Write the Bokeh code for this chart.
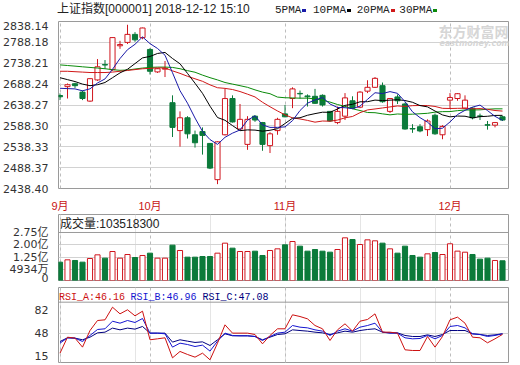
from bokeh.plotting import figure
from bokeh.layouts import column
from bokeh.models import (Range1d, FixedTicker, Label, Span, Grid, Div,
                          PrintfTickFormatter, GlobalInlineStyleSheet)
from bokeh.embed import file_html
from bokeh.resources import INLINE

# ---------------- data ----------------
idx = list(range(60))
month_ticks = [0, 12, 30, 52]
month_labels = ["9月", "10月", "11月", "12月"]
price_ticks = [2438.40, 2488.37, 2538.33, 2588.30, 2638.27, 2688.24, 2738.21, 2788.18, 2838.14]

opens = [2661, 2682.2, 2689.1, 2669.1, 2647.6, 2698.3, 2735, 2722.8, 2780, 2788.1,
         2807.3, 2799.6, 2771.2, 2717.5, 2724, 2643.8, 2577, 2607.7, 2567, 2574.7,
         2546.3, 2459.6, 2567, 2653.8, 2580.8, 2544, 2611.5, 2596.2, 2541, 2577,
         2617, 2653.8, 2666, 2660, 2659.1, 2661.4, 2623, 2596.2, 2611.5, 2648.4,
         2633, 2671.4, 2680.6, 2684.5, 2623, 2657.6, 2640.7, 2582, 2586.2, 2579.3,
         2613.8, 2567, 2649.9, 2653.8, 2630.7, 2630.7, 2612, 2591, 2590, 2610]
highs = [2666, 2689.8, 2691.4, 2672.9, 2702, 2748.2, 2745.9, 2800.5, 2791.9, 2830.3,
         2812.6, 2823.5, 2774.3, 2726.7, 2743.6, 2661.4, 2623, 2611.5, 2577, 2584.6,
         2547, 2551.7, 2676.7, 2661.4, 2640.7, 2611.5, 2614, 2597.7, 2573.1, 2607.7,
         2638.4, 2680.6, 2672.9, 2663.7, 2676.8, 2663.7, 2623.5, 2634.6, 2666.8, 2659.1,
         2671.4, 2697.5, 2705.2, 2692.1, 2654.5, 2663.7, 2643.8, 2592.4, 2592.4, 2603.9,
         2617.7, 2590, 2666.8, 2666.8, 2661.4, 2633, 2617.7, 2600, 2597.7, 2612]
lows = [2650, 2653.8, 2679.1, 2650, 2646, 2696, 2725, 2720, 2772.7, 2784.2,
        2789.6, 2795.7, 2711.3, 2715, 2705.2, 2561.6, 2538.6, 2558, 2536.3, 2519.5,
        2484.9, 2448.8, 2565.5, 2596.2, 2579.3, 2531, 2598, 2528.7, 2523.3, 2567,
        2609, 2630.7, 2653.8, 2634.6, 2640.7, 2634.6, 2597.7, 2592.4, 2602.3, 2630,
        2630.7, 2666.8, 2679, 2643.8, 2619.2, 2640.7, 2579.3, 2571.6, 2573, 2564,
        2567, 2556.3, 2630.7, 2648.4, 2628.4, 2603.9, 2602.3, 2579.3, 2584.7, 2600]
closes = [2658, 2686.8, 2684.5, 2653.8, 2701.3, 2729.7, 2734, 2799.6, 2783, 2807.3,
          2794.2, 2822.6, 2719, 2725.1, 2726, 2584.7, 2607.7, 2569.3, 2547.9, 2565.5,
          2487.2, 2550.1, 2653.7, 2597.7, 2603.9, 2603.9, 2602.3, 2544, 2569.3, 2603.9,
          2610, 2676.8, 2665, 2658, 2642.3, 2638.4, 2600, 2623, 2655.3, 2630.7,
          2669.1, 2680.6, 2702.1, 2646.1, 2653.8, 2648.4, 2580.8, 2580.8, 2576.2, 2600,
          2569.3, 2587, 2656.1, 2665.3, 2649.9, 2607.7, 2611.5, 2590, 2596.2, 2602.3]

ma5 = [2678.3, 2677.5, 2676.8, 2672.2, 2677.0, 2691.0, 2700.7, 2723.7, 2749.5, 2770.7,
       2783.6, 2801.3, 2785.2, 2773.6, 2757.4, 2715.5, 2672.5, 2642.6, 2607.1, 2575.0,
       2555.5, 2544.0, 2560.9, 2570.9, 2578.5, 2601.9, 2612.3, 2590.4, 2584.7, 2584.7,
       2585.9, 2600.8, 2625.0, 2642.7, 2650.4, 2656.1, 2640.7, 2632.3, 2631.8, 2629.5,
       2635.6, 2651.7, 2667.6, 2665.7, 2670.3, 2666.2, 2646.2, 2622.0, 2608.0, 2597.2,
       2581.4, 2582.7, 2597.7, 2615.5, 2625.5, 2633.2, 2638.1, 2624.9, 2611.1, 2601.5]
ma10 = [2703.6, 2699.0, 2694.4, 2688.3, 2684.5, 2686.8, 2692.1, 2703.6, 2715.2, 2723.8,
        2737.4, 2751.0, 2754.5, 2761.6, 2764.1, 2749.6, 2736.9, 2713.9, 2690.4, 2666.2,
        2635.5, 2608.3, 2601.7, 2589.0, 2576.8, 2578.7, 2578.2, 2575.6, 2577.8, 2581.6,
        2593.9, 2606.6, 2607.7, 2613.7, 2617.6, 2621.0, 2620.8, 2628.7, 2637.3, 2640.0,
        2645.9, 2646.2, 2650.0, 2648.8, 2649.9, 2650.9, 2649.0, 2644.8, 2636.9, 2633.8,
        2623.8, 2614.5, 2609.9, 2611.8, 2611.4, 2607.3, 2610.4, 2611.3, 2613.3, 2613.5]
ma20 = [2719.0, 2719.0, 2718.0, 2717.0, 2716.0, 2716.0, 2716.0, 2717.0, 2719.0, 2721.0,
        2723.0, 2725.0, 2726.0, 2727.0, 2727.0, 2720.0, 2714.0, 2707.0, 2701.0, 2695.0,
        2686.5, 2679.6, 2678.1, 2675.3, 2670.5, 2664.2, 2657.6, 2644.8, 2634.1, 2624.0,
        2614.7, 2607.5, 2604.8, 2601.4, 2597.2, 2599.9, 2599.5, 2602.2, 2607.6, 2610.8,
        2619.9, 2626.5, 2628.8, 2631.2, 2633.7, 2636.0, 2634.9, 2636.7, 2637.1, 2636.9,
        2634.8, 2630.3, 2629.9, 2630.3, 2630.6, 2629.1, 2629.7, 2628.0, 2625.1, 2623.7]
ma30 = [2734.3, 2732.8, 2731.3, 2729.7, 2728.2, 2726.7, 2725.1, 2722.8, 2721.3, 2722.0,
        2724.4, 2726.7, 2728.2, 2729.0, 2729.0, 2728.2, 2725.1, 2720.5, 2716.7, 2709.8,
        2703.7, 2698.3, 2692.1, 2688.3, 2684.5, 2680.6, 2674.5, 2669.1, 2665.3, 2657.2,
        2655.6, 2655.2, 2654.6, 2654.7, 2652.8, 2649.7, 2645.3, 2639.4, 2635.1, 2629.2,
        2625.1, 2620.3, 2619.8, 2617.1, 2614.7, 2616.8, 2615.9, 2616.3, 2617.3, 2618.4,
        2621.2, 2622.4, 2622.5, 2624.7, 2626.3, 2626.4, 2626.7, 2628.2, 2629.1, 2629.1]

volumes = [95200000, 109300000, 105300000, 95200000, 117400000, 139600000, 119400000, 159800000, 119400000, 141600000,
           123400000, 135600000, 149700000, 119400000, 119400000, 198200000, 165900000, 125500000, 125500000, 129500000,
           129500000, 149700000, 210300000, 180000000, 159800000, 159800000, 161800000, 135600000, 165900000, 176000000,
           200200000, 220400000, 192100000, 161800000, 171900000, 161800000, 155800000, 171900000, 242600000, 232500000,
           202200000, 230500000, 224500000, 210300000, 176000000, 149700000, 192100000, 135600000, 125500000, 145700000,
           153700000, 141600000, 206500000, 162000000, 155600000, 141700000, 113500000, 119500000, 105300000, 103518300]
vol_ticks = [4.934e7, 1.25e8, 2.0e8, 2.75e8]
vol_tick_labels = ["4934万", "1.25亿", "2.00亿", "2.75亿"]

rsi_a = [18.8, 42.1, 40.7, 27.6, 51.8, 66.4, 67.4, 85.8, 76.1, 82.0,
         73.2, 80.0, 38.3, 39.7, 41.2, 12.0, 21.3, 16.9, 13.0, 18.8,
         9.1, 33.4, 60.1, 48.0, 48.0, 48.0, 46.0, 32.4, 44.6, 54.3,
         54.3, 74.7, 72.2, 68.8, 59.1, 54.3, 37.3, 52.8, 61.6, 50.9,
         65.4, 67.9, 76.1, 49.4, 49.4, 48.0, 23.7, 22.7, 22.7, 43.1,
         27.6, 43.1, 67.4, 71.3, 62.5, 42.1, 41.2, 33.9, 39.7, 46.16]
rsi_b = [33.4, 41.2, 40.7, 35.8, 44.6, 53.3, 54.3, 65.4, 62.5, 66.4,
         63.5, 69.3, 48.0, 48.0, 47.0, 27.6, 33.4, 31.4, 28.5, 30.5,
         21.8, 36.3, 48.0, 44.6, 44.1, 44.1, 43.1, 37.3, 43.1, 48.0,
         49.4, 59.1, 56.7, 55.7, 52.8, 50.9, 44.6, 50.9, 54.3, 50.9,
         56.7, 59.1, 62.5, 49.4, 48.0, 48.0, 41.2, 39.7, 40.2, 44.6,
         39.7, 44.6, 57.7, 59.1, 55.7, 47.0, 46.0, 43.1, 44.6, 46.96]
rsi_c = [35.8, 41.2, 40.7, 38.3, 42.1, 48.4, 49.4, 55.3, 52.8, 55.3,
         53.8, 57.7, 48.0, 48.0, 48.0, 34.9, 38.3, 36.3, 34.4, 35.3,
         30.0, 38.3, 47.0, 44.1, 44.1, 44.1, 43.1, 38.3, 42.1, 46.0,
         47.0, 52.8, 51.8, 50.9, 49.4, 48.4, 46.0, 48.4, 50.9, 49.4,
         51.8, 53.3, 54.3, 49.4, 48.4, 48.4, 44.6, 43.1, 43.1, 45.5,
         43.1, 46.0, 51.8, 51.8, 51.8, 47.0, 46.0, 44.6, 45.5, 47.08]
rsi_ticks = [15, 48, 82]

# ---------------- styles ----------------
RED = "#d0161e"
GREEN = "#0b7a3a"
FRAME = "#9a9a9a"
GRID = "#d2d2d2"
TICK_FONT = "DejaVu Sans, Noto Sans CJK SC"
SANS = "Liberation Sans, Noto Sans CJK SC"
MONO = "Liberation Mono"
MA_COLORS = ["#1a1aa8", "#000000", "#d01818", "#0a8a0a"]
MA_NAMES = ["5PMA", "10PMA", "20PMA", "30PMA"]

up = [c >= o for o, c in zip(opens, closes)]
colors = [RED if u else GREEN for u in up]
fills = ["#ffffff" if u else GREEN for u in up]
body_top = [max(o, c) for o, c in zip(opens, closes)]
body_bot = [min(o, c) for o, c in zip(opens, closes)]

x_range = Range1d(-0.2, 59.8)


def base_fig(height, y_range, top, bottom, x_axis):
    p = figure(width=512, height=height, x_range=x_range, y_range=y_range,
               output_backend="svg", toolbar_location=None,
               min_border_left=57, min_border_right=4,
               min_border_top=top, min_border_bottom=bottom,
               x_axis_location=("below" if x_axis else None))
    p.outline_line_color = FRAME
    p.outline_line_width = 1
    p.background_fill_color = "white"
    p.border_fill_color = "white"
    p.yaxis.axis_line_color = None
    p.yaxis.major_tick_line_color = None
    p.yaxis.minor_tick_line_color = None
    p.yaxis.major_label_standoff = 4
    p.yaxis.major_label_text_font = TICK_FONT
    p.yaxis.major_label_text_font_size = "11px"
    p.yaxis.major_label_text_color = "#333333"
    p.ygrid.grid_line_color = GRID
    return p


def month_grid(p):
    g = Grid(dimension=0, ticker=FixedTicker(ticks=month_ticks),
             grid_line_color="#bdbdbd", grid_line_dash="3 3")
    p.add_layout(g)


# ---------------- header row (title + MA legend) ----------------
legend_left = [275, 313, 356.7, 399.3]
html = ['<div style="position:relative;width:512px;height:21px;overflow:hidden;'
        'font-family:\'Liberation Sans\',\'Noto Sans CJK SC\';font-size:12px;color:#222;">',
        '<span style="position:absolute;left:57px;top:2px;line-height:15px;white-space:nowrap;">'
        '上证指数[000001] 2018-12-12 15:10</span>']
for name, lx, lc in zip(MA_NAMES, legend_left, MA_COLORS):
    html.append('<span style="position:absolute;left:%.1fpx;top:4px;line-height:12px;'
                'font-family:\'Liberation Mono\';font-size:11px;white-space:nowrap;">%s</span>' % (lx, name))
    html.append('<span style="position:absolute;left:%.1fpx;top:9px;width:4px;height:3px;'
                'background:%s;"></span>' % (lx + len(name) * 6.6 + 1, lc))
html.append('</div>')
header = Div(text="".join(html), width=512, height=21, margin=(0, 0, 0, 0))

# ---------------- main K-line panel ----------------
p1 = base_fig(193, Range1d(price_ticks[0], price_ticks[-1]), 0, 19, True)
p1.yaxis.ticker = FixedTicker(ticks=price_ticks)
p1.yaxis.formatter = PrintfTickFormatter(format="%.2f")
p1.ygrid.ticker = FixedTicker(ticks=price_ticks)
p1.xaxis.ticker = FixedTicker(ticks=month_ticks)
p1.xaxis.major_label_overrides = {t: l for t, l in zip(month_ticks, month_labels)}
p1.xaxis.axis_line_color = None
p1.xaxis.major_tick_line_color = None
p1.xaxis.minor_tick_line_color = None
p1.xaxis.major_label_standoff = 5
p1.xaxis.major_label_text_align = "left"
p1.xaxis.major_label_text_font = SANS
p1.xaxis.major_label_text_font_size = "11px"
p1.xaxis.major_label_text_color = "#c81414"
p1.xgrid.ticker = FixedTicker(ticks=month_ticks)
p1.xgrid.grid_line_color = "#bdbdbd"
p1.xgrid.grid_line_dash = "3 3"

p1.segment(x0=idx, y0=lows, x1=idx, y1=highs, line_color=colors, line_width=1)
p1.vbar(x=idx, top=body_top, bottom=body_bot, width=0.68,
        fill_color=fills, line_color=colors, line_width=1)
for ma, mc in zip([ma30, ma20, ma10, ma5], MA_COLORS[::-1]):
    p1.line(idx, ma, line_color=mc, line_width=1)

p1.add_layout(Label(x=380, y=158, x_units="screen", y_units="screen", text="东方财富网",
                    text_font="Noto Sans CJK SC", text_font_size="14px",
                    text_font_style="bold", text_baseline="middle", text_color="#d6d6d6"))
p1.add_layout(Label(x=381, y=145, x_units="screen", y_units="screen", text="eastmoney.com",
                    text_font="DejaVu Sans", text_font_size="8px",
                    text_font_style="bold italic", text_baseline="middle", text_color="#d6d6d6"))

# ---------------- volume panel ----------------
vol_lo, vol_hi = -1.59e7, 3.84e8
p2 = base_fig(70, Range1d(vol_lo, vol_hi), 0, 4, False)
p2.yaxis.ticker = FixedTicker(ticks=[vol_lo] + vol_ticks)
p2.yaxis.major_label_overrides = dict([(vol_lo, "0")] + list(zip(vol_ticks, vol_tick_labels)))
p2.ygrid.ticker = FixedTicker(ticks=vol_ticks[:-1])
month_grid(p2)
p2.vbar(x=idx, top=volumes, bottom=vol_lo, width=0.68,
        fill_color=fills, line_color=colors, line_width=1)
p2.add_layout(Span(location=vol_ticks[-1], dimension="width", line_color=FRAME, line_width=1))
p2.add_layout(Label(x=1.5, y=56.3, x_units="screen", y_units="screen",
                    text="成交量:%d" % volumes[-1], text_font=SANS, text_font_size="12px",
                    text_baseline="middle", text_color="#222222"))

# ---------------- RSI panel ----------------
p3 = base_fig(80, Range1d(5.2, 114.5), 3, 2, False)
p3.yaxis.ticker = FixedTicker(ticks=rsi_ticks)
p3.ygrid.ticker = FixedTicker(ticks=[48])
month_grid(p3)
p3.line(idx, rsi_c, line_color="#000080", line_width=1)
p3.line(idx, rsi_b, line_color="#1515d0", line_width=1)
p3.line(idx, rsi_a, line_color="#cc1010", line_width=1)
p3.add_layout(Span(location=93.1, dimension="width", line_color=FRAME, line_width=1))
rsi_heads = [("RSI_A:%.2f" % rsi_a[-1], 0.5, "#cc1010"),
             ("RSI_B:%.2f" % rsi_b[-1], 72, "#1515d0"),
             ("RSI_C:%.2f" % rsi_c[-1], 144, "#000080")]
for txt, hx, hc in rsi_heads:
    p3.add_layout(Label(x=hx, y=65.5, x_units="screen", y_units="screen", text=txt,
                        text_font=MONO, text_font_size="10px", text_baseline="middle",
                        text_color=hc))

layout = column(header, p1, p2, p3, spacing=0,
                stylesheets=[GlobalInlineStyleSheet(css="body{margin:0 !important;}")])

open("out.html", "w").write(file_html(layout, INLINE))
